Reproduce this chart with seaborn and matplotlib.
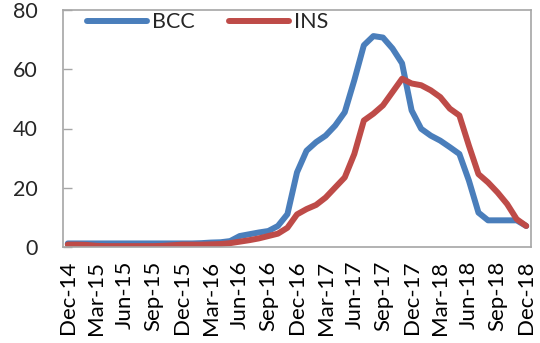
import matplotlib
matplotlib.use("Agg")
import matplotlib.pyplot as plt
import seaborn as sns
import pandas as pd
import numpy as np
from matplotlib.ticker import FixedLocator

months = ["Dec-14", "Jan-15", "Feb-15", "Mar-15", "Apr-15", "May-15", "Jun-15", "Jul-15", "Aug-15",
          "Sep-15", "Oct-15", "Nov-15", "Dec-15", "Jan-16", "Feb-16", "Mar-16", "Apr-16", "May-16",
          "Jun-16", "Jul-16", "Aug-16", "Sep-16", "Oct-16", "Nov-16", "Dec-16", "Jan-17", "Feb-17",
          "Mar-17", "Apr-17", "May-17", "Jun-17", "Jul-17", "Aug-17", "Sep-17", "Oct-17", "Nov-17",
          "Dec-17", "Jan-18", "Feb-18", "Mar-18", "Apr-18", "May-18", "Jun-18", "Jul-18", "Aug-18",
          "Sep-18", "Oct-18", "Nov-18", "Dec-18"]

bcc = [1.2, 1.2, 1.2, 1.2, 1.2, 1.2, 1.2, 1.2, 1.2, 1.2, 1.2, 1.2, 1.2, 1.2, 1.3, 1.5, 1.6, 2.0,
       3.7, 4.3, 4.9, 5.4, 7.1, 11.1, 25.2, 32.5, 35.4, 37.6, 41.0, 45.5, 56.3, 68.1, 71.2, 70.7,
       67.0, 62.0, 46.1, 39.9, 37.6, 35.9, 33.7, 31.4, 22.4, 11.6, 9.0, 9.0, 9.0, 9.0, 7.1]

ins = [0.8, 0.8, 0.7, 0.4, 0.3, 0.3, 0.3, 0.3, 0.3, 0.3, 0.4, 0.6, 0.8, 0.8, 0.8, 0.9, 1.0, 1.3,
       1.8, 2.3, 2.9, 3.7, 4.5, 6.5, 11.0, 12.8, 14.2, 16.7, 20.1, 23.5, 31.4, 42.7, 45.0, 47.8,
       52.3, 56.8, 55.2, 54.6, 52.9, 50.6, 46.7, 44.4, 34.2, 24.6, 21.8, 18.4, 14.5, 9.4, 7.1]

series_names = ["BCC", "INS"]
yticks = [0, 20, 40, 60, 80]

df = pd.DataFrame({
    "idx": list(range(len(months))) * 2,
    "value": bcc + ins,
    "series": [series_names[0]] * len(months) + [series_names[1]] * len(months),
})

sns.set_theme(style="white")
plt.rcParams["font.family"] = ["Lato", "DejaVu Sans"]

fig = plt.figure(figsize=(5.4, 3.43), dpi=100)
ax = fig.add_axes([63 / 540, (343 - 247) / 343, 468 / 540, 237 / 343])

sns.lineplot(data=df, x="idx", y="value", hue="series", hue_order=series_names,
             palette={"BCC": "#4A7EBB", "INS": "#BE4B48"}, linewidth=4.3, ax=ax,
             solid_capstyle="round", legend=True)

ax.set_xlim(-0.5, len(months) - 0.5)
ax.set_ylim(0, 80)
ax.set_xlabel("")
ax.set_ylabel("")

major = list(range(0, len(months), 3))
ax.xaxis.set_major_locator(FixedLocator(major))
ax.set_xticklabels([months[i] for i in major], rotation=90, fontsize=16)
ax.xaxis.set_minor_locator(FixedLocator([i + 2.5 for i in range(0, len(months) - 3, 3)]))
ax.tick_params(axis="x", which="major", length=0, pad=10, colors="black")
ax.tick_params(axis="x", which="minor", direction="in", length=6, width=1, color="#A6A6A6")

ax.set_yticks(yticks)
ax.set_yticklabels([str(v) for v in yticks], fontsize=15.5)
ax.tick_params(axis="y", direction="in", length=6.5, width=1, color="#A6A6A6", pad=18, left=True)

for s in ax.spines.values():
    s.set_visible(True)
    s.set_color("#A6A6A6")
    s.set_linewidth(1.2)

leg = ax.legend(loc="upper left", bbox_to_anchor=(0.047, 1.0), ncol=2, frameon=False,
                fontsize=15.5, handlelength=2.8, handletextpad=0.2, columnspacing=1.6,
                borderaxespad=0, borderpad=0.1)
for h in leg.get_lines():
    h.set_linewidth(4.3)
    h.set_solid_capstyle("round")

fig.savefig("out.png", dpi=100)
